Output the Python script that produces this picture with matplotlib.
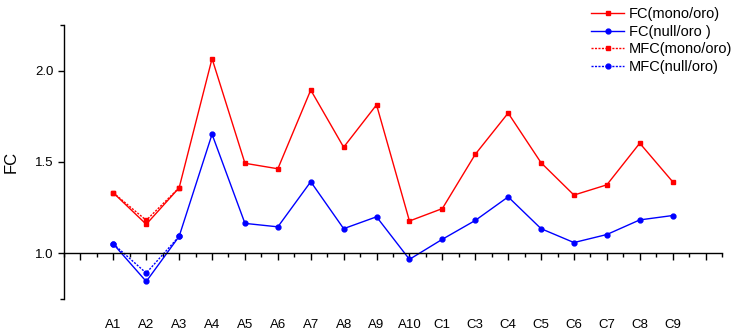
import matplotlib
matplotlib.use("Agg")
import matplotlib.pyplot as plt
from matplotlib.ticker import FixedLocator, MultipleLocator

plt.rcParams['font.family'] = ['Liberation Sans', 'DejaVu Sans']

categories = ["A1", "A2", "A3", "A4", "A5", "A6", "A7", "A8", "A9", "A10",
              "C1", "C3", "C4", "C5", "C6", "C7", "C8", "C9"]
fc_mono = [1.331, 1.159, 1.359, 2.066, 1.493, 1.463, 1.894, 1.581, 1.813, 1.177,
           1.245, 1.542, 1.768, 1.496, 1.319, 1.375, 1.603, 1.392]
fc_null = [1.051, 0.846, 1.093, 1.652, 1.164, 1.145, 1.392, 1.135, 1.200, 0.967,
           1.077, 1.180, 1.309, 1.135, 1.059, 1.103, 1.183, 1.207]
mfc_categories = ["A1", "A2", "A3"]
mfc_mono = [1.331, 1.181, 1.359]
mfc_null = [1.051, 0.892, 1.093]

x = list(range(1, len(categories) + 1))
xm = [categories.index(c) + 1 for c in mfc_categories]

fig = plt.figure(figsize=(7.37, 3.32), dpi=100)
ax = fig.add_axes([64/737, 1 - 299/332, (722-64)/737, (299-25)/332])

ax.plot(x, fc_mono, color='#ff0000', lw=1.0, marker='s', ms=3.3, label='FC(mono/oro)')
ax.plot(x, fc_null, color='#0000ff', lw=1.0, marker='o', ms=3.5, label='FC(null/oro )')
ax.plot(xm, mfc_mono, color='#ff0000', lw=1.0, ls=(0, (1.5, 1)), marker='s', ms=3.3, label='MFC(mono/oro)')
ax.plot(xm, mfc_null, color='#0000ff', lw=1.0, ls=(0, (1.5, 1)), marker='o', ms=3.5, label='MFC(null/oro)')

ax.set_xlim(-0.5, len(categories) + 1.5)
ax.set_ylim(0.75, 2.25)

for s in ['top', 'right']:
    ax.spines[s].set_visible(False)
ax.spines['bottom'].set_position(('data', 1.0))
ax.spines['left'].set_linewidth(1.0)
ax.spines['bottom'].set_linewidth(1.0)

ax.set_xticks(list(range(0, len(categories) + 2)))
ax.set_xticklabels([""] + categories + [""])
ax.xaxis.set_minor_locator(MultipleLocator(0.5))
ax.tick_params(axis='x', which='major', direction='out', length=5, width=1, pad=42, labelsize=9.5)
ax.tick_params(axis='x', which='minor', direction='out', length=3, width=1)

ax.set_yticks([1.0, 1.5, 2.0])
ax.set_yticklabels(["1.0", "1.5", "2.0"])
ax.yaxis.set_minor_locator(FixedLocator([0.75, 2.25]))
ax.tick_params(axis='y', which='major', direction='out', length=4, width=1, labelsize=9.5)
ax.tick_params(axis='y', which='minor', direction='out', length=3, width=1)

ax.set_ylabel("FC", fontsize=12, labelpad=12)

leg = fig.legend(loc='upper left', bbox_to_anchor=(585/737, 1 - 1/332), frameon=False,
                 fontsize=10.5, handlelength=2.3, handletextpad=0.3, labelspacing=0.26,
                 borderaxespad=0)

fig.savefig("out.png", dpi=100)
